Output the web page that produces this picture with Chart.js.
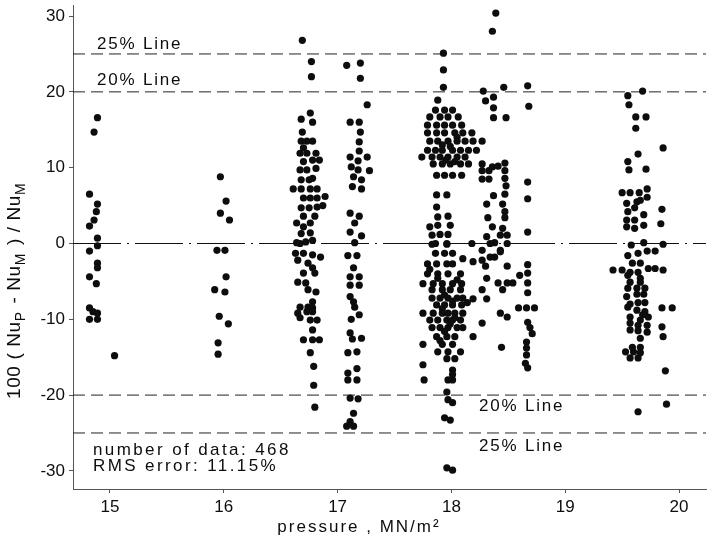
<!DOCTYPE html>
<html>
<head>
<meta charset="utf-8">
<script src="https://cdn.jsdelivr.net/npm/chart.js@4.4.1/dist/chart.umd.min.js"></script>
<style>
  html, body { margin: 0; padding: 0; background: #fff; }
</style>
</head>
<body>
<canvas id="chart" width="716" height="538"></canvas>
<script>
// measured points, [pressure MN/m2, 100 (NuP - NuM) / NuM], grouped by test column
const near15 = [
  [14.89, 16.6], [14.86, 14.7], [14.82, 6.5], [14.89, 5.2], [14.88, 4.2], [14.86, 3.1],
  [14.82, 2.3], [14.89, 0.7], [14.89, -0.3], [14.82, -1.0], [14.89, -2.6], [14.89, -3.2],
  [14.82, -4.4], [14.88, -5.3], [14.82, -8.5], [14.85, -9.0], [14.89, -9.2], [14.82, -10.0],
  [14.89, -10.0], [15.04, -14.8]
]
const near16 = [
  [15.97, 8.8], [16.02, 5.6], [15.97, 4.0], [16.05, 3.1], [15.94, -0.9], [16.01, -0.9],
  [16.02, -4.4], [15.92, -6.1], [16.01, -6.4], [15.96, -9.6], [16.04, -10.6], [15.95, -13.1],
  [15.95, -14.6]
]
const near168 = [
  [16.69, 26.8], [16.77, 24.0], [16.77, 22.0], [16.76, 17.2], [16.68, 16.4], [16.78, 16.0],
  [16.69, 14.7], [16.68, 13.5], [16.73, 13.5], [16.78, 13.5], [16.70, 12.6], [16.67, 11.9],
  [16.73, 11.9], [16.81, 11.9], [16.78, 11.0], [16.84, 11.0], [16.70, 10.8], [16.67, 9.7],
  [16.73, 9.7], [16.81, 9.9], [16.68, 8.4], [16.75, 8.4], [16.78, 8.6], [16.61, 7.2],
  [16.68, 7.2], [16.76, 7.2], [16.82, 7.2], [16.70, 6.0], [16.76, 6.0], [16.82, 6.0],
  [16.89, 6.2], [16.68, 4.7], [16.75, 4.7], [16.82, 4.8], [16.87, 5.0], [16.70, 3.6],
  [16.80, 3.6], [16.64, 2.7], [16.76, 2.7], [16.70, 2.2], [16.68, 1.3], [16.76, 1.4],
  [16.64, 0.1], [16.72, 0.2], [16.78, 0.4], [16.67, 0.0], [16.63, -1.3], [16.70, -1.3],
  [16.78, -1.5], [16.85, -1.8], [16.65, -2.2], [16.74, -2.6], [16.78, -3.2], [16.70, -3.9],
  [16.80, -3.9], [16.65, -5.1], [16.72, -5.2], [16.74, -6.1], [16.81, -6.4], [16.78, -7.7],
  [16.67, -8.4], [16.74, -8.4], [16.78, -8.5], [16.65, -9.2], [16.73, -9.0], [16.78, -9.0],
  [16.67, -9.8], [16.76, -10.1], [16.82, -10.1], [16.78, -11.4], [16.70, -12.7], [16.78, -12.7],
  [16.84, -12.7], [16.76, -14.4], [16.79, -16.2], [16.79, -18.7], [16.80, -21.6]
]
const near172 = [
  [17.08, 23.5], [17.20, 23.8], [17.20, 21.8], [17.26, 18.3], [17.11, 16.0], [17.19, 16.0],
  [17.20, 14.7], [17.19, 13.4], [17.19, 12.2], [17.11, 11.4], [17.26, 11.4], [17.18, 10.9],
  [17.12, 10.1], [17.18, 9.7], [17.28, 9.6], [17.14, 8.8], [17.21, 8.4], [17.13, 7.5],
  [17.21, 7.2], [17.11, 4.0], [17.19, 3.6], [17.15, 2.7], [17.11, 1.5], [17.21, 1.0],
  [17.15, 0.1], [17.09, -1.6], [17.17, -1.6], [17.14, -3.2], [17.11, -4.4], [17.19, -4.4],
  [17.11, -5.5], [17.19, -5.5], [17.11, -7.0], [17.14, -7.7], [17.15, -8.4], [17.19, -9.4],
  [17.12, -10.0], [17.11, -11.8], [17.13, -12.6], [17.21, -12.5], [17.09, -14.4], [17.17, -14.3],
  [17.17, -16.5], [17.09, -17.1], [17.09, -18.0], [17.17, -18.0], [17.11, -20.4], [17.18, -20.5],
  [17.14, -22.4], [17.11, -23.5], [17.08, -24.1], [17.14, -24.1]
]
const near18 = [
  [17.93, 25.1], [17.93, 22.9], [17.93, 20.6], [17.88, 18.9],
  [17.86, 17.6], [17.94, 17.6], [18.01, 17.6],
  [17.81, 16.7], [17.90, 16.7], [17.97, 16.7], [18.06, 16.7],
  [17.79, 15.6], [17.87, 15.6], [17.94, 15.6], [18.01, 15.6], [18.09, 15.6],
  [17.79, 14.6], [17.87, 14.6], [17.94, 14.6], [18.03, 14.6], [18.10, 14.6], [18.18, 14.6],
  [17.81, 13.5], [17.88, 13.5], [17.97, 13.5], [18.05, 13.5], [18.12, 13.5], [18.19, 13.5], [18.27, 13.5],
  [17.79, 12.3], [17.86, 12.3], [17.92, 12.3], [18.01, 12.3], [18.08, 12.3], [18.15, 12.3], [18.22, 12.3],
  [17.74, 11.4], [17.83, 11.4], [17.90, 11.4], [17.97, 11.4], [18.05, 11.4], [18.12, 11.4],
  [17.84, 10.5], [17.92, 10.5], [17.99, 10.5], [18.08, 10.5], [18.15, 10.5],
  [17.87, 9.0], [17.94, 9.0], [18.01, 9.0], [18.09, 9.0],
  [17.95, 11.0], [18.03, 10.8], [17.99, 12.8], [18.05, 14.0], [17.92, 13.0],
  [17.87, 6.4], [17.96, 6.4], [17.87, 4.8], [17.88, 3.5], [17.97, 3.6], [17.81, 2.2],
  [17.88, 2.4], [17.99, 2.4], [17.83, 1.1], [17.90, 1.2], [17.97, 1.2], [17.83, -0.1], [17.96, -0.1],
  [17.86, 0.0], [17.96, 0.0], [18.18, 0.0],
  [17.86, -1.3], [17.94, -1.3], [18.01, -1.3],
  [17.79, -2.7], [17.87, -2.7], [17.96, -2.7], [18.01, -2.7],
  [17.79, -4.0], [17.88, -4.0], [17.97, -4.0], [18.08, -4.0],
  [17.75, -5.3], [17.84, -5.3], [17.92, -5.3], [18.01, -5.3], [18.09, -5.3],
  [17.83, -6.1], [17.92, -6.1], [17.99, -6.1], [18.08, -6.1],
  [17.83, -7.2], [17.90, -7.2], [17.97, -7.2], [18.05, -7.2], [18.10, -7.2],
  [17.87, -8.1], [17.94, -8.1], [18.01, -8.1], [18.09, -8.1],
  [17.75, -9.2], [17.84, -9.2], [17.92, -9.2], [17.97, -9.2], [18.03, -9.2], [18.10, -9.2],
  [17.81, -10.1], [17.88, -10.1], [17.96, -10.1], [18.01, -10.1], [18.08, -10.1],
  [17.83, -11.1], [17.90, -11.1], [17.97, -11.1], [18.05, -11.1], [18.10, -11.1],
  [17.87, -12.3], [17.96, -12.3], [18.03, -12.3],
  [17.75, -13.3], [17.92, -13.3], [18.01, -13.3],
  [17.88, -14.3], [17.97, -14.3], [18.08, -14.3],
  [17.96, -15.2], [18.03, -15.2], [17.75, -16.0], [18.01, -16.7], [18.01, -17.3],
  [17.76, -18.0], [17.97, -18.0], [18.01, -18.0], [17.96, -19.6], [17.97, -20.6], [18.01, -21.0],
  [17.94, -23.0], [17.99, -23.3], [17.96, -29.6], [18.01, -29.9],
  [17.94, -6.8], [18.01, -7.6], [17.92, -8.6], [18.03, -9.8], [17.99, -10.6], [17.94, -11.6],
  [17.88, -4.6], [18.05, -4.8], [17.81, -3.4], [17.90, -12.8], [18.10, -2.0], [18.14, -7.8]
]
const near184 = [
  [18.39, 30.4], [18.36, 28.0], [18.28, 20.1], [18.46, 20.6], [18.30, 18.8], [18.37, 19.3],
  [18.37, 17.9], [18.37, 16.6], [18.48, 16.6], [18.27, 10.5], [18.36, 10.1], [18.41, 10.2],
  [18.47, 10.6], [18.27, 9.6], [18.33, 9.6], [18.47, 9.6], [18.47, 8.6], [18.27, 8.5],
  [18.33, 8.5], [18.48, 7.6], [18.37, 6.3], [18.47, 6.5], [18.31, 5.2], [18.45, 5.2],
  [18.47, 4.2], [18.32, 3.4], [18.47, 3.4], [18.36, 2.2], [18.45, 2.0], [18.31, 0.9],
  [18.43, 1.1], [18.49, 1.1], [18.38, 0.1], [18.27, -0.9], [18.34, 0.0], [18.43, -0.9],
  [18.49, 0.0], [18.19, -2.4], [18.27, -2.2], [18.34, -1.8], [18.38, -1.8], [18.43, -1.1],
  [18.30, -3.0], [18.49, -3.0], [18.31, -4.6], [18.27, -6.1], [18.41, -5.2], [18.49, -5.2],
  [18.45, -6.1], [18.19, -7.3], [18.31, -7.3], [18.54, -5.2], [18.43, -9.2], [18.49, -9.7],
  [18.27, -10.5], [18.44, -13.7], [18.19, -12.3]
]
const near187 = [
  [18.67, 20.8], [18.68, 18.1], [18.67, 8.1], [18.67, 5.9], [18.67, 1.5], [18.67, -2.8],
  [18.67, -3.9], [18.60, -4.2], [18.67, -5.2], [18.67, -6.5], [18.59, -8.5], [18.66, -8.5],
  [18.73, -8.5], [18.67, -10.4], [18.69, -11.1], [18.71, -11.9], [18.66, -13.0], [18.66, -13.8],
  [18.66, -14.7], [18.65, -15.8], [18.67, -16.4]
]
const near196 = [
  [19.68, 20.1], [19.55, 19.5], [19.56, 18.3], [19.62, 16.7], [19.71, 16.7], [19.62, 15.2],
  [19.64, 11.8], [19.55, 10.8], [19.56, 9.7], [19.71, 9.8], [19.72, 7.2], [19.50, 6.7],
  [19.57, 6.7], [19.65, 6.7], [19.72, 6.1], [19.54, 5.3], [19.63, 5.5], [19.66, 5.7],
  [19.55, 4.2], [19.61, 4.7], [19.69, 3.8], [19.54, 3.1], [19.61, 3.1], [19.54, 2.2],
  [19.61, 2.0], [19.69, 2.4], [19.58, -0.2], [19.69, 0.1], [19.55, -1.6], [19.64, -1.3],
  [19.72, -1.0], [19.79, -1.0], [19.59, -2.6], [19.66, -2.6], [19.42, -3.5], [19.50, -3.5],
  [19.57, -3.8], [19.64, -3.8], [19.73, -3.3], [19.79, -3.3], [19.86, -3.5], [19.55, -4.2],
  [19.66, -4.6], [19.57, -5.1], [19.66, -5.1], [19.55, -5.9], [19.63, -5.9], [19.70, -5.9],
  [19.54, -7.0], [19.63, -6.7], [19.69, -6.7], [19.57, -8.0], [19.64, -7.8], [19.70, -7.8],
  [19.55, -8.4], [19.63, -8.8], [19.70, -9.0], [19.68, -9.4], [19.57, -9.7], [19.66, -10.1],
  [19.73, -9.7], [19.57, -10.5], [19.64, -10.8], [19.72, -10.8], [19.57, -11.4], [19.64, -11.5],
  [19.72, -11.7], [19.66, -12.5], [19.59, -13.7], [19.66, -13.7], [19.53, -14.3], [19.60, -14.3],
  [19.66, -14.4], [19.57, -15.1], [19.64, -15.1], [19.64, -22.2]
]
const near199 = [
  [19.86, 12.6], [19.85, 4.5], [19.84, 2.6], [19.86, -0.1], [19.85, -8.5], [19.94, -8.5],
  [19.85, -11.0], [19.86, -12.3], [19.88, -16.8], [19.89, -21.2]
]

const limitLines = [25, 20, -20, -25]
const xTicks = [15, 16, 17, 18, 19, 20]
const yTicks = [-30, -20, -10, 0, 10, 20, 30]
const xMin = 14.675, xMax = 20.237
const yMin = -32.39, yMax = 31.46

const font = '"Liberation Sans", Arial, Helvetica, sans-serif'
const ink = '#0d0d0d'

const groups = [near15, near16, near168, near172, near18, near184, near187, near196, near199]
const points = groups.flat().map(p => ({ x: p[0], y: p[1] }))

const datasets = limitLines.map(v => ({
    type: 'line',
    data: [{ x: xMin, y: v }, { x: xMax, y: v }],
    borderColor: '#222',
    borderWidth: 1,
    borderDash: [12, 6],
    pointRadius: 0,
    order: 2
}))
datasets.push({
    type: 'line',
    data: [{ x: xMin, y: 0 }, { x: xMax, y: 0 }],
    borderColor: '#111',
    borderWidth: 1.2,
    borderDash: [48, 6, 2, 6],
    pointRadius: 0,
    order: 2
})
datasets.push({
    type: 'scatter',
    data: points,
    backgroundColor: ink,
    borderWidth: 0,
    pointRadius: 3.6,
    order: 1
})

// free text on the plot
const notes = {
    id: 'notes',
    afterDraw(chart) {
        const ctx = chart.ctx
        ctx.save()
        ctx.fillStyle = ink
        ctx.textBaseline = 'middle'
        ctx.textAlign = 'left'
        ctx.font = '17px ' + font
        ctx.letterSpacing = '1.8px'
        ctx.fillText('25% Line', 97, 44)
        ctx.fillText('20% Line', 97, 80)
        ctx.fillText('20% Line', 479, 406)
        ctx.fillText('25% Line', 479, 446)
        ctx.letterSpacing = '2.4px'
        ctx.fillText('number of data: 468', 93, 450)
        ctx.fillText('RMS error: 11.15%', 93, 466)

        // x axis title
        ctx.letterSpacing = '2px'
        ctx.textAlign = 'center'
        ctx.fillText('pressure , MN/m²', 359, 527)

        // y axis title with subscripts, read bottom to top
        ctx.translate(15, 399)
        ctx.rotate(-Math.PI / 2)
        ctx.textAlign = 'left'
        ctx.letterSpacing = '0.6px'
        const parts = [['100 ( Nu', 0], ['P', 1], [' - Nu', 0], ['M', 1], [' ) / Nu', 0], ['M', 1]]
        let u = 0
        parts.forEach(([txt, sub]) => {
            ctx.font = (sub ? '14px ' : '19px ') + font
            ctx.fillText(txt, u, sub ? 6 : 0)
            u += ctx.measureText(txt).width + (sub ? 2 : 0)
        })
        ctx.restore()
    }
}

new Chart(document.getElementById('chart'), {
    type: 'scatter',
    data: { datasets: datasets },
    options: {
        responsive: false,
        animation: false,
        layout: { padding: { left: 0, right: 10, top: 5, bottom: 0 } },
        plugins: { legend: { display: false }, tooltip: { enabled: false } },
        scales: {
            x: {
                type: 'linear',
                min: xMin,
                max: xMax,
                afterBuildTicks: s => { s.ticks = xTicks.map(v => ({ value: v })) },
                afterFit: s => { s.height = 49; s.paddingLeft = 0; s.paddingRight = 0 },
                ticks: { color: ink, font: { family: font, size: 17 }, padding: 4, maxRotation: 0 },
                grid: { drawOnChartArea: false, drawTicks: true, tickLength: 4, color: '#555' },
                border: { display: true, color: '#555', width: 1, dash: [2, 2] }
            },
            y: {
                type: 'linear',
                min: yMin,
                max: yMax,
                afterBuildTicks: s => { s.ticks = yTicks.map(v => ({ value: v })) },
                afterFit: s => { s.width = 73; s.paddingTop = 0; s.paddingBottom = 0 },
                ticks: { color: ink, font: { family: font, size: 17 }, padding: 4 },
                grid: { drawOnChartArea: false, drawTicks: true, tickLength: 4, color: '#555' },
                border: { display: true, color: '#555', width: 1, dash: [2, 2] }
            }
        }
    },
    plugins: [notes]
})
</script>
</body>
</html>
